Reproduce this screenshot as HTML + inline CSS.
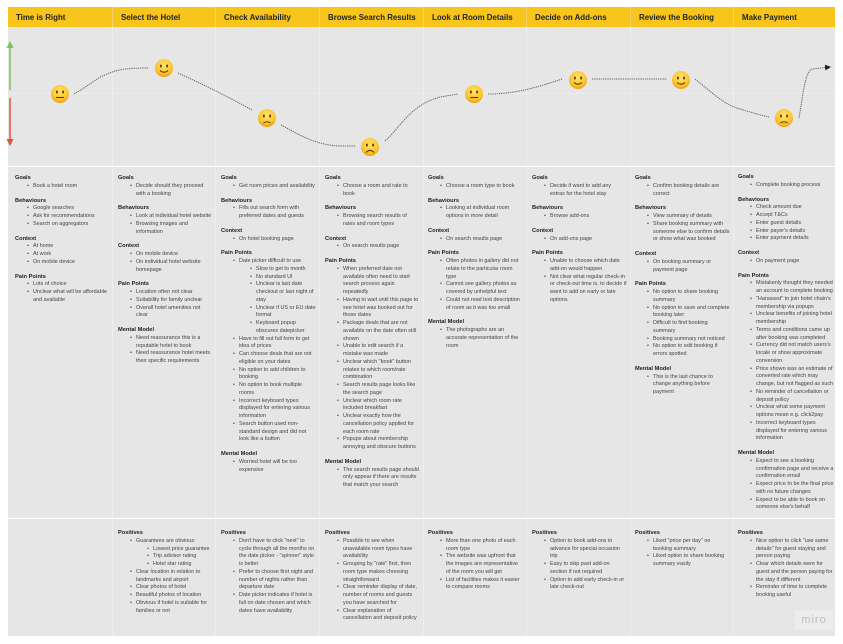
<!DOCTYPE html>
<html><head><meta charset="utf-8"><style>
*{margin:0;padding:0;box-sizing:border-box}
body{width:843px;height:644px;background:#fff;position:relative;overflow:hidden;font-family:"Liberation Sans",sans-serif;color:#333}
.hdr{position:absolute;left:8px;top:7px;width:827px;height:20px;background:#f8c51c}
.ht{position:absolute;top:7px;height:20px;line-height:21px;font-size:7.9px;font-weight:bold;color:#222;padding-left:8px;border-left:1px solid #fbd667}
.band{position:absolute;left:8px;width:827px;background:#e6e6e6}
.vl{position:absolute;width:1px;background:#efefef}
.col{position:absolute;width:100px;font-size:5.45px;line-height:7.75px;color:#444}
.col b{display:block;font-size:5.7px;color:#222;margin-top:7px}
.col b:first-child{margin-top:0}
.col ul{list-style:none;padding-left:12px}
.col li{position:relative;padding-left:6px}
.col li:before{content:"•";position:absolute;left:0}
.col ul ul{padding-left:11px}
</style></head><body>
<div class="hdr"></div>
<div class="band" style="top:27px;height:139px"></div>
<div class="band" style="top:167px;height:351px"></div>
<div class="band" style="top:519px;height:117px"></div>
<div style="position:absolute;left:8px;top:93px;width:827px;height:1px;background:#ececec"></div>
<div class="vl" style="left:112px;top:27px;height:609px"></div>
<div class="vl" style="left:215px;top:27px;height:609px"></div>
<div class="vl" style="left:319px;top:27px;height:609px"></div>
<div class="vl" style="left:423px;top:27px;height:609px"></div>
<div class="vl" style="left:526px;top:27px;height:609px"></div>
<div class="vl" style="left:630px;top:27px;height:609px"></div>
<div class="vl" style="left:733px;top:27px;height:609px"></div>

<div class="ht" style="left:8px;width:104px;border:0">Time is Right</div>
<div class="ht" style="left:112px;width:103px">Select the Hotel</div>
<div class="ht" style="left:215px;width:104px">Check Availability</div>
<div class="ht" style="left:319px;width:104px">Browse Search Results</div>
<div class="ht" style="left:423px;width:103px">Look at Room Details</div>
<div class="ht" style="left:526px;width:104px">Decide on Add-ons</div>
<div class="ht" style="left:630px;width:103px">Review the Booking</div>
<div class="ht" style="left:733px;width:102px">Make Payment</div>

<svg style="position:absolute;left:0;top:0" width="843" height="170">
<defs>
<radialGradient id="g" cx="50%" cy="35%" r="65%"><stop offset="0" stop-color="#ffe36a"/><stop offset="0.7" stop-color="#fcc52e"/><stop offset="1" stop-color="#e9a011"/></radialGradient>
<marker id="ah" markerWidth="6" markerHeight="6" refX="5" refY="3" orient="auto"><path d="M0,0 L6,3 L0,6z" fill="#222"/></marker>
</defs>
<line x1="10" y1="90" x2="10" y2="47" stroke="#7dc35b" stroke-width="1.5"/>
<path d="M6.5,48 L10,41 L13.5,48z" fill="#7dc35b"/>
<line x1="10" y1="98" x2="10" y2="140" stroke="#e0553e" stroke-width="1.5"/>
<path d="M6.5,139 L10,146 L13.5,139z" fill="#e0553e"/>
<g fill="none" stroke="#666" stroke-width="1" stroke-dasharray="1.3,0.9">
<path d="M74,94 C90,85 98,77 105,75 C115,70 125,68 148,68"/>
<path d="M178,73 C200,83 225,95 252,110"/>
<path d="M281,125 C300,135 315,145 340,146 L355,146"/>
<path d="M385,141 C400,128 410,105 440,97 L458,94"/>
<path d="M488,94 C510,94 530,90 562,79"/>
<path d="M592,79 L667,79"/>
<path d="M695,79 C715,95 725,105 740,109 C750,112 760,115 769,117"/>
<path d="M799,118 C803,95 805,72 812,69 L830,67" marker-end="url(#ah)"/>
</g>
<g>
<g transform="translate(60,94)"><circle r="9" fill="url(#g)"/><rect x="-4" y="-3.5" width="1.8" height="3" rx=".9" fill="#5a3a0a"/><rect x="2.2" y="-3.5" width="1.8" height="3" rx=".9" fill="#5a3a0a"/><line x1="-4" y1="3.5" x2="4" y2="3.5" stroke="#5a3a0a" stroke-width="1.1"/></g>
<g transform="translate(164,68)"><circle r="9" fill="url(#g)"/><rect x="-4" y="-3.5" width="1.8" height="3" rx=".9" fill="#5a3a0a"/><rect x="2.2" y="-3.5" width="1.8" height="3" rx=".9" fill="#5a3a0a"/><path d="M-4,2.5 Q0,6 4,2.5" stroke="#5a3a0a" stroke-width="1.1" fill="none"/></g>
<g transform="translate(267,118)"><circle r="9" fill="url(#g)"/><rect x="-4" y="-3.5" width="1.8" height="3" rx=".9" fill="#5a3a0a"/><rect x="2.2" y="-3.5" width="1.8" height="3" rx=".9" fill="#5a3a0a"/><path d="M-3.5,5 Q0,2.5 3.5,5" stroke="#5a3a0a" stroke-width="1.1" fill="none"/></g>
<g transform="translate(370,147)"><circle r="9" fill="url(#g)"/><rect x="-4" y="-3.5" width="1.8" height="3" rx=".9" fill="#5a3a0a"/><rect x="2.2" y="-3.5" width="1.8" height="3" rx=".9" fill="#5a3a0a"/><path d="M-4,5.5 Q0,1.5 4,5.5" stroke="#5a3a0a" stroke-width="1.1" fill="none"/></g>
<g transform="translate(474,94)"><circle r="9" fill="url(#g)"/><rect x="-4" y="-3.5" width="1.8" height="3" rx=".9" fill="#5a3a0a"/><rect x="2.2" y="-3.5" width="1.8" height="3" rx=".9" fill="#5a3a0a"/><line x1="-4" y1="3.5" x2="4" y2="3.5" stroke="#5a3a0a" stroke-width="1.1"/></g>
<g transform="translate(578,80)"><circle r="9" fill="url(#g)"/><rect x="-4" y="-3.5" width="1.8" height="3" rx=".9" fill="#5a3a0a"/><rect x="2.2" y="-3.5" width="1.8" height="3" rx=".9" fill="#5a3a0a"/><path d="M-4,2.5 Q0,6 4,2.5" stroke="#5a3a0a" stroke-width="1.1" fill="none"/></g>
<g transform="translate(681,80)"><circle r="9" fill="url(#g)"/><rect x="-4" y="-3.5" width="1.8" height="3" rx=".9" fill="#5a3a0a"/><rect x="2.2" y="-3.5" width="1.8" height="3" rx=".9" fill="#5a3a0a"/><path d="M-4,2.5 Q0,6 4,2.5" stroke="#5a3a0a" stroke-width="1.1" fill="none"/></g>
<g transform="translate(784,118)"><circle r="9" fill="url(#g)"/><rect x="-4" y="-3.5" width="1.8" height="3" rx=".9" fill="#5a3a0a"/><rect x="2.2" y="-3.5" width="1.8" height="3" rx=".9" fill="#5a3a0a"/><path d="M-3.5,5 Q0,2.5 3.5,5" stroke="#5a3a0a" stroke-width="1.1" fill="none"/></g>
</g>
</svg>

<div class="col" style="left:15px;top:175px;width:94px">
<b>Goals</b><ul><li>Book a hotel room</li></ul>
<b>Behaviours</b><ul><li>Google searches</li><li>Ask for recommendations</li><li>Search on aggregators</li></ul>
<b>Context</b><ul><li>At home</li><li>At work</li><li>On mobile device</li></ul>
<b>Pain Points</b><ul><li>Lots of choice</li><li>Unclear what will be affordable and available</li></ul>
</div>

<div class="col" style="left:118px;top:175px;width:94px">
<b>Goals</b><ul><li>Decide should they proceed with a booking</li></ul>
<b>Behaviours</b><ul><li>Look at individual hotel website</li><li>Browsing images and information</li></ul>
<b>Context</b><ul><li>On mobile device</li><li>On individual hotel website homepage</li></ul>
<b>Pain Points</b><ul><li>Location often not clear</li><li>Suitability for family unclear</li><li>Overall hotel amenities not clear</li></ul>
<b>Mental Model</b><ul><li>Need reassurance this is a reputable hotel to book</li><li>Need reassurance hotel meets their specific requirements</li></ul>
</div>

<div class="col" style="left:221px;top:175px;width:95px">
<b>Goals</b><ul><li>Get room prices and availability</li></ul>
<b>Behaviours</b><ul><li>Fills out search form with preferred dates and guests</li></ul>
<b>Context</b><ul><li>On hotel booking page</li></ul>
<b>Pain Points</b><ul><li>Date picker difficult to use<ul><li>Slow to get to month</li><li>No standard UI</li><li>Unclear is last date checkout or last night of stay</li><li>Unclear if US or EU date format</li><li>Keyboard popup obscures datepicker</li></ul></li><li>Have to fill out full form to get idea of prices</li><li>Can choose deals that are not eligible on your dates</li><li>No option to add children to booking</li><li>No option to book multiple rooms</li><li>Incorrect keyboard types displayed for entering various information</li><li>Search button used non-standard design and did not look like a button</li></ul>
<b>Mental Model</b><ul><li>Worried hotel will be too expensive</li></ul>
</div>

<div class="col" style="left:325px;top:175px;width:95px">
<b>Goals</b><ul><li>Choose a room and rate to book</li></ul>
<b>Behaviours</b><ul><li>Browsing search results of rates and room types</li></ul>
<b>Context</b><ul><li>On search results page</li></ul>
<b>Pain Points</b><ul><li>When preferred date not available often need to start search process again repeatedly</li><li>Having to wait until this page to see hotel was booked out for those dates</li><li>Package deals that are not available on the date often still shown</li><li>Unable to edit search if a mistake was made</li><li>Unclear which "book" button relates to which room/rate combination</li><li>Search results page looks like the search page</li><li>Unclear which room rate included breakfast</li><li>Unclear exactly how the cancellation policy applied for each room rate</li><li>Popups about membership annoying and obscure buttons</li></ul>
<b>Mental Model</b><ul><li>The search results page should only appear if there are results that match your search</li></ul>
</div>

<div class="col" style="left:428px;top:175px;width:95px">
<b>Goals</b><ul><li>Choose a room type to book</li></ul>
<b>Behaviours</b><ul><li>Looking at individual room options in more detail</li></ul>
<b>Context</b><ul><li>On search results page</li></ul>
<b>Pain Points</b><ul><li>Often photos in gallery did not relate to the particular room type</li><li>Cannot see gallery photos as covered by unhelpful text</li><li>Could not read text description of room as it was too small</li></ul>
<b>Mental Model</b><ul><li>The photographs are an accurate representation of the room</li></ul>
</div>

<div class="col" style="left:532px;top:175px;width:95px">
<b>Goals</b><ul><li>Decide if want to add any extras for the hotel stay</li></ul>
<b>Behaviours</b><ul><li>Browse add-ons</li></ul>
<b>Context</b><ul><li>On add-ons page</li></ul>
<b>Pain Points</b><ul><li>Unable to choose which date add-on would happen</li><li>Not clear what regular check-in or check-out time is, to decide if want to add on early or late options</li></ul>
</div>

<div class="col" style="left:635px;top:175px;width:95px">
<b>Goals</b><ul><li>Confirm booking details are correct</li></ul>
<b>Behaviours</b><ul><li>View summary of details</li><li>Share booking summary with someone else to confirm details or show what was booked</li></ul>
<b>Context</b><ul><li>On booking summary or payment page</li></ul>
<b>Pain Points</b><ul><li>No option to share booking summary</li><li>No option to save and complete booking later</li><li>Difficult to find booking summary</li><li>Booking summary not noticed</li><li>No option to edit booking if errors spotted</li></ul>
<b>Mental Model</b><ul><li>This is the last chance to change anything before payment</li></ul>
</div>

<div class="col" style="left:738px;top:174px;width:97px">
<b>Goals</b><ul><li>Complete booking process</li></ul>
<b>Behaviours</b><ul><li>Check amount due</li><li>Accept T&amp;Cs</li><li>Enter guest details</li><li>Enter payer's details</li><li>Enter payment details</li></ul>
<b>Context</b><ul><li>On payment page</li></ul>
<b>Pain Points</b><ul><li>Mistakenly thought they needed an account to complete booking</li><li>"Harassed" to join hotel chain's membership via popups</li><li>Unclear benefits of joining hotel membership</li><li>Terms and conditions came up after booking was completed</li><li>Currency did not match users's locale or show approximate conversion</li><li>Price shown was an estimate of converted rate which may change, but not flagged as such</li><li>No reminder of cancellation or deposit policy</li><li>Unclear what some payment options mean e.g. click2pay</li><li>Incorrect keyboard types displayed for entering various information</li></ul>
<b>Mental Model</b><ul><li>Expect to see a booking confirmation page and receive a confirmation email</li><li>Expect price to be the final price with no future changes</li><li>Expect to be able to book on someone else's behalf</li></ul>
</div>

<div class="col" style="left:118px;top:530px;width:94px">
<b>Positives</b><ul><li>Guarantees are obvious:<ul><li>Lowest price guarantee</li><li>Trip advisor rating</li><li>Hotel star rating</li></ul></li><li>Clear location in relation to landmarks and airport</li><li>Clear photos of hotel</li><li>Beautiful photos of location</li><li>Obvious if hotel is suitable for families or not</li></ul>
</div>
<div class="col" style="left:221px;top:530px;width:95px">
<b>Positives</b><ul><li>Don't have to click "next" to cycle through all the months on the date picker - "spinner" style is better</li><li>Prefer to choose first night and number of nights rather than departure date</li><li>Date picker indicates if hotel is full on date chosen and which dates have availability</li></ul>
</div>
<div class="col" style="left:325px;top:530px;width:95px">
<b>Positives</b><ul><li>Possible to see when unavailable room types have availability</li><li>Grouping by "rate" first, then room type makes choosing straightforward</li><li>Clear reminder display of date, number of rooms and guests you have searched for</li><li>Clear explanation of cancellation and deposit policy</li></ul>
</div>
<div class="col" style="left:428px;top:530px;width:95px">
<b>Positives</b><ul><li>More than one photo of each room type</li><li>The website was upfront that the images are representative of the room you will get</li><li>List of facilities makes it easier to compare rooms</li></ul>
</div>
<div class="col" style="left:532px;top:530px;width:95px">
<b>Positives</b><ul><li>Option to book add-ons in advance for special occasion trip</li><li>Easy to skip past add-on section if not required</li><li>Option to add early check-in or late check-out</li></ul>
</div>
<div class="col" style="left:635px;top:530px;width:95px">
<b>Positives</b><ul><li>Liked "price per day" on booking summary</li><li>Liked option to share booking summary easily</li></ul>
</div>
<div class="col" style="left:738px;top:530px;width:97px">
<b>Positives</b><ul><li>Nice option to click "use same details" for guest staying and person paying</li><li>Clear which details were for guest and the person paying for the stay if different</li><li>Reminder of time to complete booking useful</li></ul>
</div>

<div style="position:absolute;left:795px;top:610px;width:38px;height:20px;background:#ececec;border-radius:2px;color:#bbb;font-size:11px;line-height:20px;text-align:center;letter-spacing:1px">miro</div>
</body></html>
